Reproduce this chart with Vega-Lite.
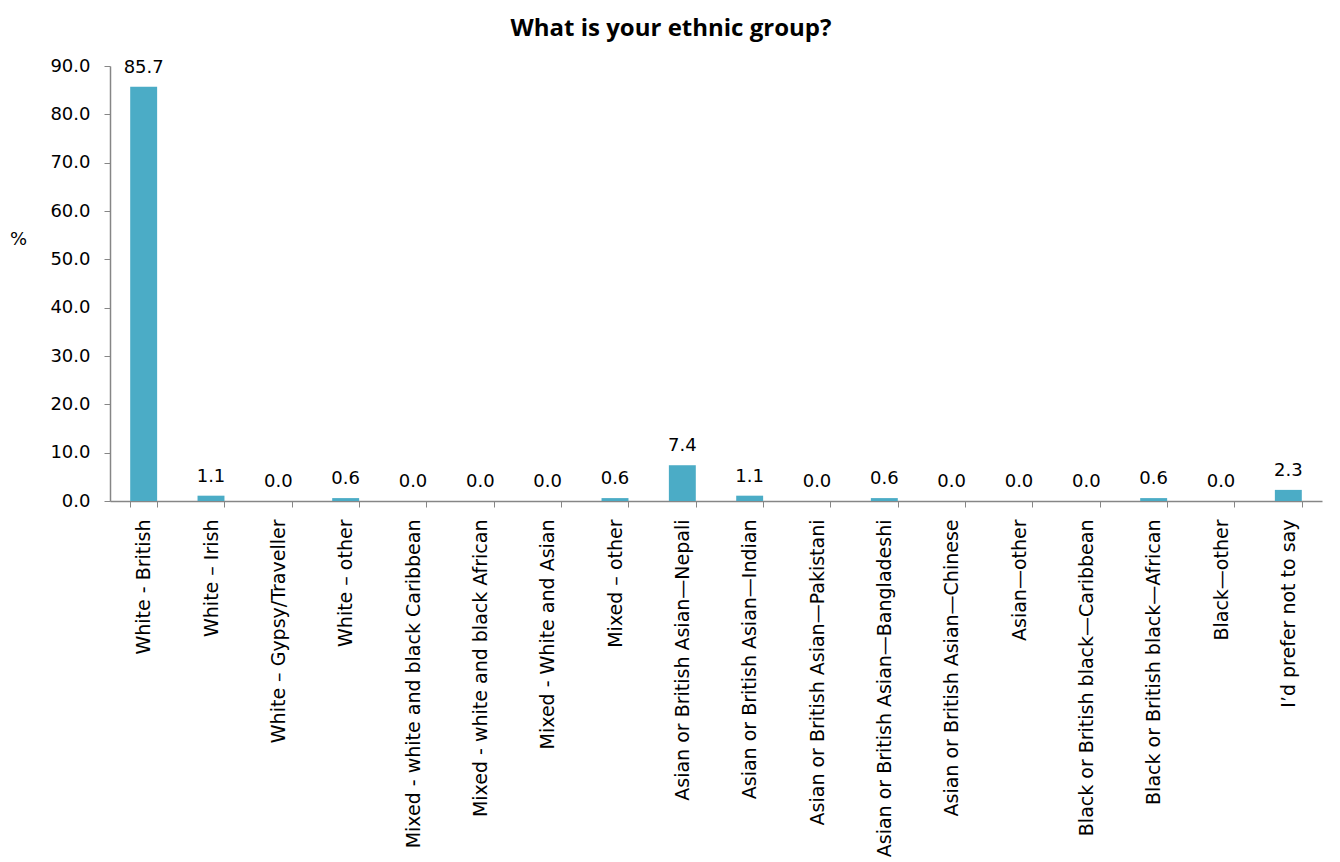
{
  "$schema": "https://vega.github.io/schema/vega-lite/v6.json",
  "autosize": {"type": "none"},
  "padding": {"left": 110, "top": 66, "right": 18, "bottom": 361},
  "width": 1212,
  "height": 435,
  "background": "white",
  "title": {"text": "What is your ethnic group?", "font": "Open Sans", "fontSize": 24, "fontWeight": "bold", "color": "#000000", "anchor": "middle", "offset": 16, "dx": -45},
  "data": {"values": [
    {"group": "White - British", "pct": 85.7},
    {"group": "White – Irish", "pct": 1.1},
    {"group": "White – Gypsy/Traveller", "pct": 0.0},
    {"group": "White – other", "pct": 0.6},
    {"group": "Mixed - white and black Caribbean", "pct": 0.0},
    {"group": "Mixed - white and black African", "pct": 0.0},
    {"group": "Mixed - White and Asian", "pct": 0.0},
    {"group": "Mixed – other", "pct": 0.6},
    {"group": "Asian or British Asian—Nepali", "pct": 7.4},
    {"group": "Asian or British Asian—Indian", "pct": 1.1},
    {"group": "Asian or British Asian—Pakistani", "pct": 0.0},
    {"group": "Asian or British Asian—Bangladeshi", "pct": 0.6},
    {"group": "Asian or British Asian—Chinese", "pct": 0.0},
    {"group": "Asian—other", "pct": 0.0},
    {"group": "Black or British black—Caribbean", "pct": 0.0},
    {"group": "Black or British black—African", "pct": 0.6},
    {"group": "Black—other", "pct": 0.0},
    {"group": "I’d prefer not to say", "pct": 2.3}
  ]},
  "config": {
    "view": {"stroke": null},
    "axis": {"labelFont": "DejaVu Sans", "titleFont": "DejaVu Sans", "labelColor": "#000000", "titleColor": "#000000", "domainColor": "#868686", "tickColor": "#868686", "domainWidth": 1.5, "grid": false}
  },
  "encoding": {
    "x": {"field": "group", "type": "nominal", "sort": null,
      "scale": {"paddingInner": 0.6, "paddingOuter": 0.3},
      "axis": {"title": null, "labelAngle": -90, "labelAlign": "right", "labelBaseline": "middle", "labelFontSize": 19, "labelPadding": 12, "tickBand": "extent", "tickSize": 6, "labelLimit": 400}},
    "y": {"field": "pct", "type": "quantitative",
      "scale": {"domain": [0, 90], "nice": false},
      "axis": {"title": "%", "titleAngle": 0, "titleFontSize": 18, "titleFontWeight": "normal", "titleX": -92, "titleY": 182, "values": [0,10,20,30,40,50,60,70,80,90], "format": ".1f", "labelFontSize": 18, "tickSize": 6, "labelPadding": 14}}
  },
  "layer": [
    {"mark": {"type": "bar", "color": "#4BACC6"}},
    {"mark": {"type": "text", "dy": -19, "font": "DejaVu Sans", "fontSize": 18, "color": "#000000"},
     "encoding": {"text": {"field": "pct", "type": "quantitative", "format": ".1f"}}}
  ]
}
